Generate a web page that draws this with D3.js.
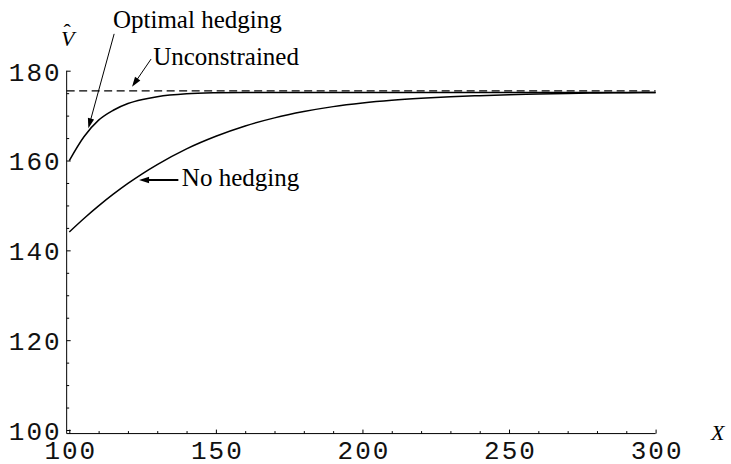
<!DOCTYPE html>
<html>
<head>
<meta charset="utf-8">
<script src="https://cdn.jsdelivr.net/npm/d3@7"></script>
<style>
  body { margin: 0; background: #fff; }
</style>
</head>
<body>
<svg id="chart" width="731" height="464"></svg>
<script>
// Firm value V-hat against the state variable X
const xValues = [100, 105, 110, 115, 120, 125, 130, 140, 150, 160, 170, 180, 190, 200,
                 210, 220, 230, 240, 250, 260, 270, 280, 290, 300];
const optimalHedging = [160.0, 165.3, 169.0, 171.2, 172.7, 173.6, 174.2, 174.85, 175.08, 175.15,
                        175.15, 175.15, 175.15, 175.15, 175.15, 175.15, 175.15, 175.15, 175.15,
                        175.15, 175.15, 175.15, 175.15, 175.15];
const noHedging = [144.1, 147.1, 149.9, 152.5, 154.9, 157.1, 159.1, 162.6, 165.4, 167.7,
                   169.5, 170.9, 172.0, 172.8, 173.4, 173.85, 174.2, 174.45, 174.65, 174.8,
                   174.95, 175.05, 175.1, 175.15];
const unconstrainedValue = 175.5;

const xTicks = [100, 150, 200, 250, 300];
const yTicks = [100, 120, 140, 160, 180];
const xMinorTicks = d3.range(110, 300, 10).filter(v => v % 50 !== 0);
const yMinorTicks = d3.range(105, 180, 5).filter(v => v % 20 !== 0);

// Where the two axes cross (slightly below/left of the first ticks)
const origin = { x: 99.1, y: 99.2 };

// Annotation text and arrows, in data coordinates
const notes = [
  { text: "Optimal hedging", at: [114.9, 189.5], from: [115.3, 188.2], to: [106.5, 167.2], width: 1 },
  { text: "Unconstrained",   at: [128.6, 181.3], from: [127.9, 182.6], to: [121.4, 176.4], width: 1 },
  { text: "No hedging",      at: [138.4, 154.3], from: [137.2, 155.65], to: [123.8, 155.65], width: 2 }
];

const SERIF = "Liberation Serif";
const MONO = "Liberation Mono";

const svg = d3.select("#chart");
const x = d3.scaleLinear().domain([100, 300]).range([69.3, 655.6]);
const y = d3.scaleLinear().domain([100, 180]).range([430, 70.7]);

// Axis lines
const axisG = svg.append("g").attr("stroke", "#000").attr("stroke-width", 1);
axisG.append("line")
  .attr("x1", x(origin.x)).attr("x2", x(300))
  .attr("y1", y(origin.y)).attr("y2", y(origin.y));
axisG.append("line")
  .attr("x1", x(origin.x)).attr("x2", x(origin.x))
  .attr("y1", y(origin.y)).attr("y2", y(180));

// X axis ticks (pointing up) and labels
const xAxisMajor = d3.axisBottom(x).tickValues(xTicks).tickSizeInner(-4).tickSizeOuter(0)
  .tickPadding(7).tickFormat(d3.format("d"));
const xAxisMinor = d3.axisBottom(x).tickValues(xMinorTicks).tickSizeInner(-2.5).tickSizeOuter(0)
  .tickFormat("");
const gx = svg.append("g").attr("transform", `translate(0,${y(origin.y)})`).call(xAxisMajor);
svg.append("g").attr("transform", `translate(0,${y(origin.y)})`).call(xAxisMinor);
// Y axis ticks (pointing right) and labels
const yAxisMajor = d3.axisLeft(y).tickValues(yTicks).tickSizeInner(-4).tickSizeOuter(0)
  .tickPadding(5).tickFormat(d3.format("d"));
const yAxisMinor = d3.axisLeft(y).tickValues(yMinorTicks).tickSizeInner(-2.5).tickSizeOuter(0)
  .tickFormat("");
const gy = svg.append("g").attr("transform", `translate(${x(origin.x)},0)`).call(yAxisMajor);
svg.append("g").attr("transform", `translate(${x(origin.x)},0)`).call(yAxisMinor);

svg.selectAll(".domain").remove();
svg.selectAll(".tick line").attr("stroke", "#000").attr("stroke-width", 1);
svg.selectAll("g").attr("font-family", null).attr("font-size", null);
svg.selectAll(".tick text")
  .attr("font-family", MONO).attr("font-size", 26)
  .attr("fill", "#111").attr("letter-spacing", 2);
gx.selectAll(".tick text").attr("dy", "0.7em").attr("dx", 1);
gy.selectAll(".tick text").attr("dy", "0.36em");

// Axis titles: V with a hat, and X
const vTitle = svg.append("text")
  .attr("x", 61).attr("y", 46)
  .attr("font-family", SERIF).attr("font-size", 22);
vTitle.append("tspan").attr("font-style", "italic").text("V");
vTitle.append("tspan").attr("dx", -11).attr("dy", -7).text("\u02C6");
svg.append("text").attr("x", 711).attr("y", 440).text("X")
  .attr("font-family", SERIF).attr("font-size", 22).attr("font-style", "italic");

// Curves
const line = d3.line().x(d => x(d[0])).y(d => y(d[1])).curve(d3.curveMonotoneX);
svg.append("path")
  .datum(xValues.map((v, i) => [v, optimalHedging[i]]))
  .attr("d", line).attr("fill", "none").attr("stroke", "#000").attr("stroke-width", 1.5);
svg.append("path")
  .datum(xValues.map((v, i) => [v, noHedging[i]]))
  .attr("d", line).attr("fill", "none").attr("stroke", "#000").attr("stroke-width", 1.5);
svg.append("line")
  .attr("x1", x(origin.x)).attr("x2", x(300))
  .attr("y1", y(unconstrainedValue)).attr("y2", y(unconstrainedValue))
  .attr("stroke", "#000").attr("stroke-width", 1.3).attr("stroke-dasharray", "8,4.5");

// Annotations with arrows
notes.forEach(n => {
  const sx = x(n.from[0]), sy = y(n.from[1]);
  const tx = x(n.to[0]), ty = y(n.to[1]);
  const len = Math.hypot(tx - sx, ty - sy);
  const ux = (tx - sx) / len, uy = (ty - sy) / len;
  const L = 10, W = 3.2;
  const bx = tx - L * ux, by = ty - L * uy;
  svg.append("line")
    .attr("x1", sx).attr("y1", sy)
    .attr("x2", tx - 0.7 * L * ux).attr("y2", ty - 0.7 * L * uy)
    .attr("stroke", "#000").attr("stroke-width", n.width);
  svg.append("polygon")
    .attr("points", [[tx, ty], [bx - W * uy, by + W * ux], [bx + W * uy, by - W * ux]].map(p => p.join(",")).join(" "))
    .attr("fill", "#000");
  svg.append("text")
    .attr("x", x(n.at[0])).attr("y", y(n.at[1])).text(n.text)
    .attr("font-family", SERIF).attr("font-size", 25);
});
</script>
</body>
</html>
